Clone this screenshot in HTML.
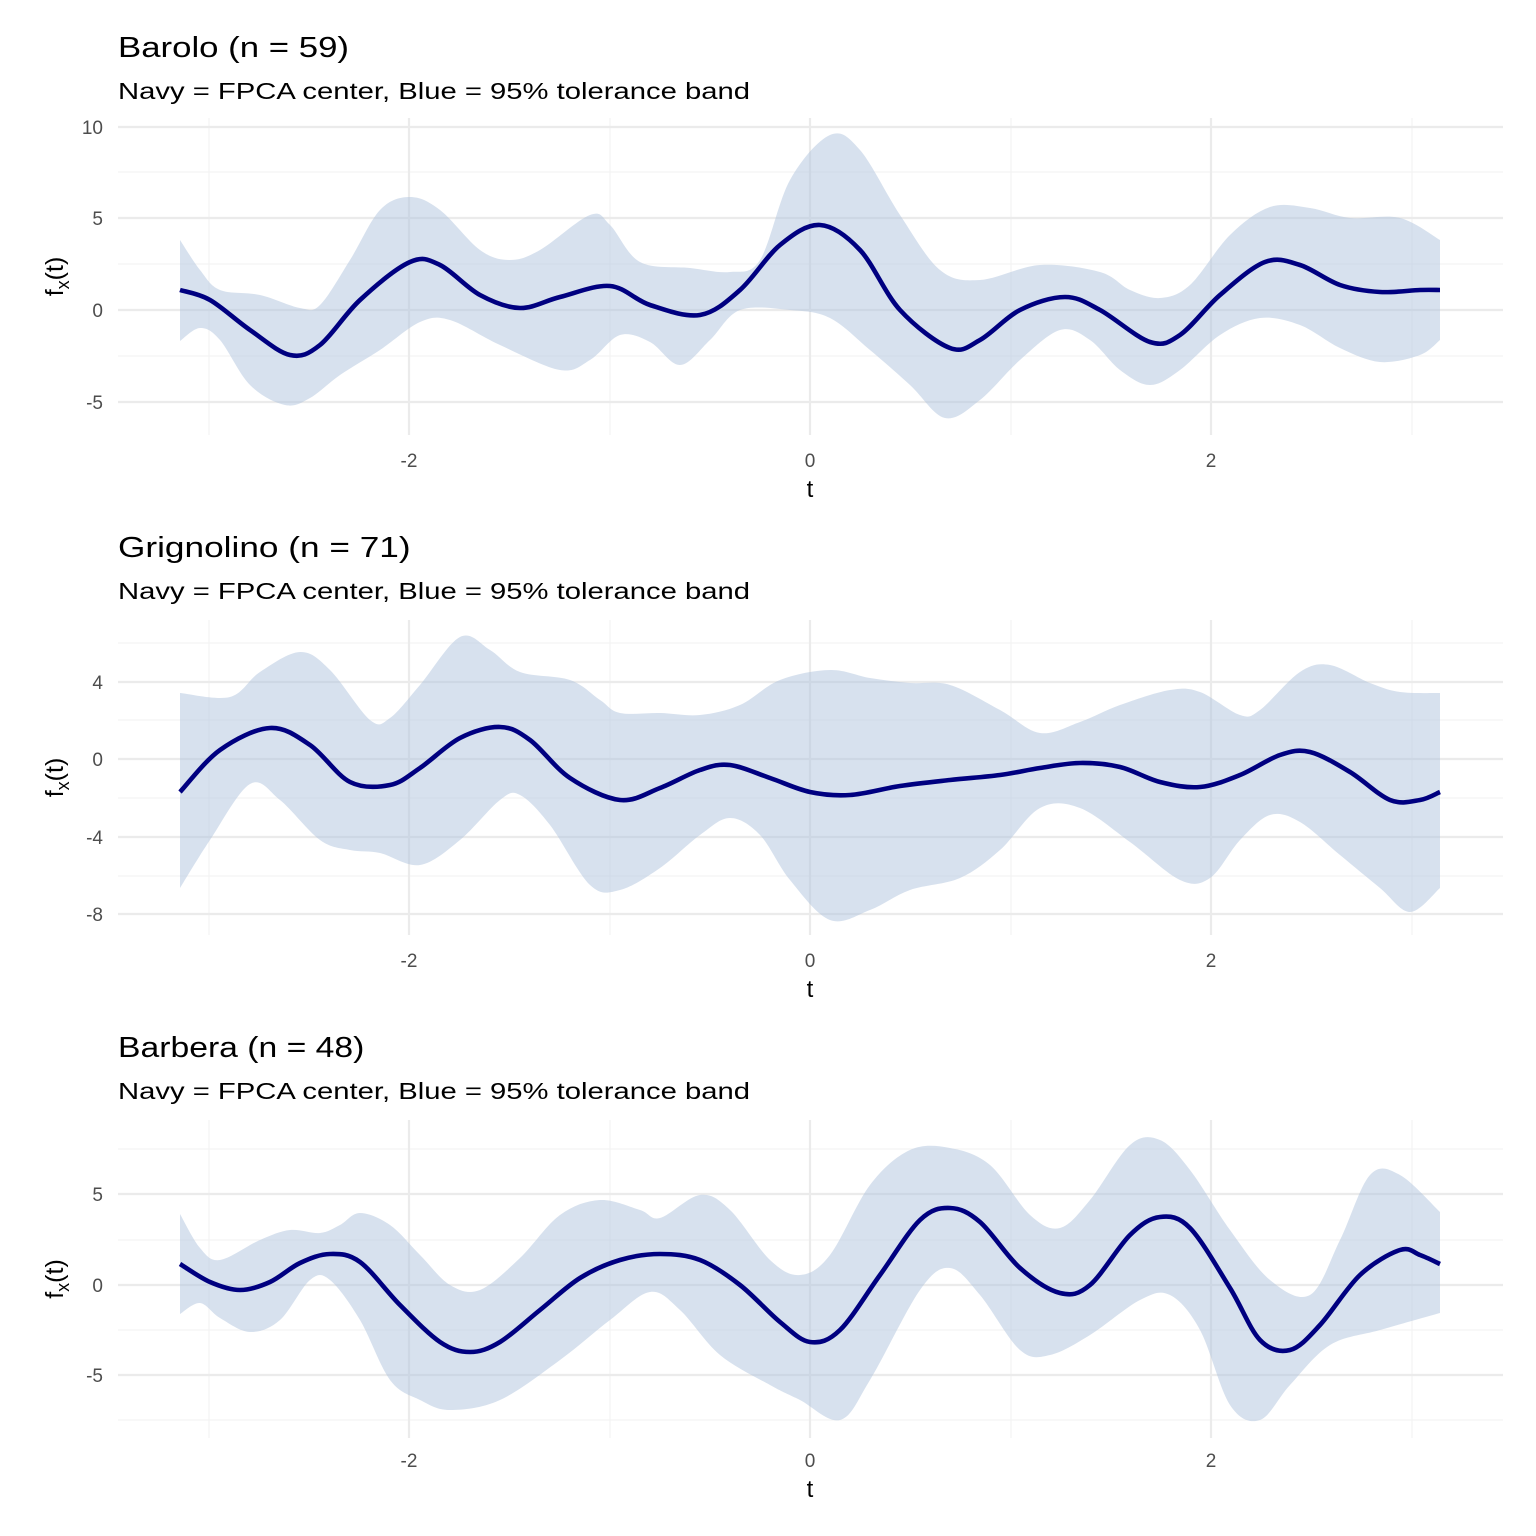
<!DOCTYPE html>
<html><head><meta charset="utf-8"><style>
html,body{margin:0;padding:0;background:#fff}
svg{display:block;font-family:"Liberation Sans",Arial,sans-serif}
</style></head><body>
<svg id="s" width="1536" height="1536" viewBox="0 0 1536 1536" xmlns="http://www.w3.org/2000/svg"></svg>
<script>
const NS="http://www.w3.org/2000/svg",S=document.getElementById('s');
function el(t,a,txt){const e=document.createElementNS(NS,t);for(const k in a)e.setAttribute(k,a[k]);if(txt!==undefined)e.textContent=txt;S.appendChild(e);return e;}
function cr(p,start){let d=start?`M${p[0][0]},${p[0][1]}`:`L${p[0][0]},${p[0][1]}`;
for(let i=0;i<p.length-1;i++){const p0=p[Math.max(i-1,0)],p1=p[i],p2=p[i+1],p3=p[Math.min(i+2,p.length-1)];
const c1=[p1[0]+(p2[0]-p0[0])/6,p1[1]+(p2[1]-p0[1])/6],c2=[p2[0]-(p3[0]-p1[0])/6,p2[1]-(p3[1]-p1[1])/6];
d+=` C${c1[0]},${c1[1]} ${c2[0]},${c2[1]} ${p2[0]},${p2[1]}`;}return d;}
const panels=[
{title:"Barolo (n = 59)",ty:57,top:118,bot:435,major:[[127,"10"],[218,"5"],[310,"0"],[402,"-5"]],minor:[172,264,356],xt:466,tl:497,
c:[[180,290],[210,300],[250,330],[290,355],[320,345],[360,300],[410,262],[440,265],[480,295],[520,308],[560,297],[610,286],[650,305],[700,315],[740,290],[780,245],[820,225],[860,250],[900,310],[950,348],[980,340],[1020,310],[1065,297],[1100,310],[1150,342],[1180,335],[1220,295],[1265,262],[1300,265],[1340,285],[1380,292],[1420,290],[1440,290]],
u:[[180,240],[200,270],[220,290],[260,295],[300,308],[320,305],[350,260],[380,210],[410,197],[440,210],[480,250],[510,260],[540,250],[590,215],[610,225],[640,262],[690,268],[730,272],[760,260],[790,180],[830,135],[860,150],[900,215],[940,270],[980,280],[1040,265],[1100,272],[1130,290],[1160,298],[1190,285],[1230,235],[1270,207],[1310,208],[1350,218],[1400,218],[1440,240]],
l:[[180,341],[200,328],[220,340],[250,385],[285,405],[310,398],[340,375],[380,350],[420,322],[450,320],[500,345],[560,370],[590,360],[620,335],[650,342],[680,365],[710,340],[740,310],[790,310],[830,318],[870,350],[910,385],[945,418],[980,400],[1020,360],[1060,330],[1090,340],[1120,370],[1150,385],[1180,370],[1220,335],[1260,318],[1300,325],[1340,348],[1380,362],[1420,355],[1440,340]]},
{title:"Grignolino (n = 71)",ty:557,top:620,bot:935,major:[[682,"4"],[759,"0"],[837,"-4"],[914,"-8"]],minor:[643,720,798,876],xt:966,tl:997,
c:[[180,792],[220,750],[270,728],[310,745],[350,782],[390,785],[420,768],[460,738],[500,727],[530,740],[570,778],[620,800],[660,788],[700,770],[730,765],[770,778],[810,792],[850,795],[900,786],[950,780],[1000,775],[1040,768],[1080,763],[1120,767],[1160,782],[1200,787],[1240,775],[1280,755],[1310,752],[1350,772],[1390,800],[1420,800],[1440,792]],
u:[[180,693],[230,697],[260,672],[300,652],[330,670],[370,720],[390,718],[420,685],[460,637],[490,650],[520,672],[570,680],[600,700],[620,713],[660,713],[700,715],[740,705],[780,680],[830,670],[870,678],[910,683],[950,685],[1000,710],[1040,733],[1080,722],[1120,705],[1170,690],[1200,692],[1240,715],[1260,710],[1300,672],[1330,665],[1370,683],[1400,692],[1440,693]],
l:[[180,888],[210,840],[250,784],[280,800],[320,840],[350,850],[380,853],[420,865],[460,840],[500,800],[520,795],[550,825],[590,885],[620,890],[660,868],[700,835],[730,818],[760,835],[790,880],[830,920],[870,910],[910,890],[960,878],[1000,850],[1040,808],[1080,808],[1130,842],[1180,880],[1210,878],[1240,840],[1270,815],[1300,822],[1340,855],[1380,888],[1410,912],[1440,888]]},
{title:"Barbera (n = 48)",ty:1057,top:1120,bot:1438,major:[[1194,"5"],[1285,"0"],[1375,"-5"]],minor:[1149,1240,1330,1420],xt:1466,tl:1497,
c:[[180,1264],[210,1282],[240,1290],[270,1282],[300,1263],[330,1254],[360,1262],[400,1305],[440,1342],[470,1352],[500,1342],[540,1310],[580,1278],[620,1260],[660,1254],[700,1260],[740,1285],[780,1322],[810,1342],[840,1330],[880,1275],[920,1220],[950,1208],[980,1222],[1020,1268],[1060,1293],[1090,1285],[1130,1235],[1160,1217],[1190,1228],[1230,1288],[1260,1340],[1290,1350],[1320,1325],[1360,1275],[1400,1250],[1420,1255],[1440,1264]],
u:[[180,1214],[200,1248],[220,1260],[260,1240],[290,1230],[320,1233],[340,1225],[360,1213],[390,1225],[420,1255],[450,1285],[480,1290],[520,1258],[560,1215],[600,1200],[640,1210],[660,1218],[700,1195],[730,1210],[770,1260],[800,1275],[830,1255],[870,1185],[910,1150],[950,1148],[990,1165],[1030,1215],[1060,1228],[1090,1200],[1130,1145],[1160,1140],[1190,1170],[1230,1230],[1270,1280],[1310,1295],[1340,1240],[1370,1175],[1400,1175],[1440,1212]],
l:[[180,1314],[200,1303],[220,1318],[250,1332],[280,1320],[310,1280],[330,1280],[360,1320],[390,1380],[420,1400],[450,1410],[500,1400],[560,1360],[610,1320],[650,1292],[680,1310],[720,1355],[770,1385],[800,1400],[840,1420],[870,1380],[920,1290],[950,1268],[980,1295],[1020,1350],[1050,1355],[1090,1335],[1140,1300],[1170,1295],[1200,1330],[1230,1405],[1260,1420],[1290,1385],[1330,1345],[1380,1330],[1440,1313]]}];
for(const p of panels){
  for(const y of p.minor)el('line',{x1:118,x2:1503,y1:y,y2:y,stroke:'#f2f2f2','stroke-width':1.1});
  for(const x of [209,610,1011,1412])el('line',{x1:x,x2:x,y1:p.top,y2:p.bot,stroke:'#f2f2f2','stroke-width':1.1});
  for(const [y] of p.major)el('line',{x1:118,x2:1503,y1:y,y2:y,stroke:'#ebebeb','stroke-width':2.2});
  for(const x of [409,810,1211])el('line',{x1:x,x2:x,y1:p.top,y2:p.bot,stroke:'#ebebeb','stroke-width':2.2});
  const rl=p.l.slice().reverse();
  el('path',{d:cr(p.u,true)+' '+cr(rl,false)+' Z',fill:'#b0c4de','fill-opacity':0.5});
  el('path',{d:cr(p.c,true),fill:'none',stroke:'#000080','stroke-width':4.6,'stroke-linejoin':'round'});
  el('text',{x:118,y:p.ty,'font-size':29,fill:'#000',textLength:p.title.length*15.4,lengthAdjust:'spacingAndGlyphs'},p.title);
  el('text',{x:118,y:p.ty+42,'font-size':23.5,fill:'#000',textLength:632,lengthAdjust:'spacingAndGlyphs'},"Navy = FPCA center, Blue = 95% tolerance band");
  for(const [y,t] of p.major)el('text',{x:103,y:y+7,'font-size':19,fill:'#4d4d4d','text-anchor':'end'},t);
  [[409,"-2"],[810,"0"],[1211,"2"]].forEach(([x,t])=>el('text',{x:x,y:p.xt+1,'font-size':19,fill:'#4d4d4d','text-anchor':'middle'},t));
  el('text',{x:810,y:p.tl,'font-size':24,fill:'#000','text-anchor':'middle'},"t");
  const cy=(p.top+p.bot)/2;
  const g=el('text',{x:0,y:0,'font-size':25,fill:'#000','text-anchor':'middle',transform:`translate(63,${cy}) rotate(-90)`});
  const a=document.createElementNS(NS,'tspan');a.textContent='f';g.appendChild(a);
  const b=document.createElementNS(NS,'tspan');b.setAttribute('dy','6');b.setAttribute('font-size','18');b.textContent='x';g.appendChild(b);
  const c=document.createElementNS(NS,'tspan');c.setAttribute('dy','-6');c.textContent='(t)';g.appendChild(c);
}
</script>
</body></html>
